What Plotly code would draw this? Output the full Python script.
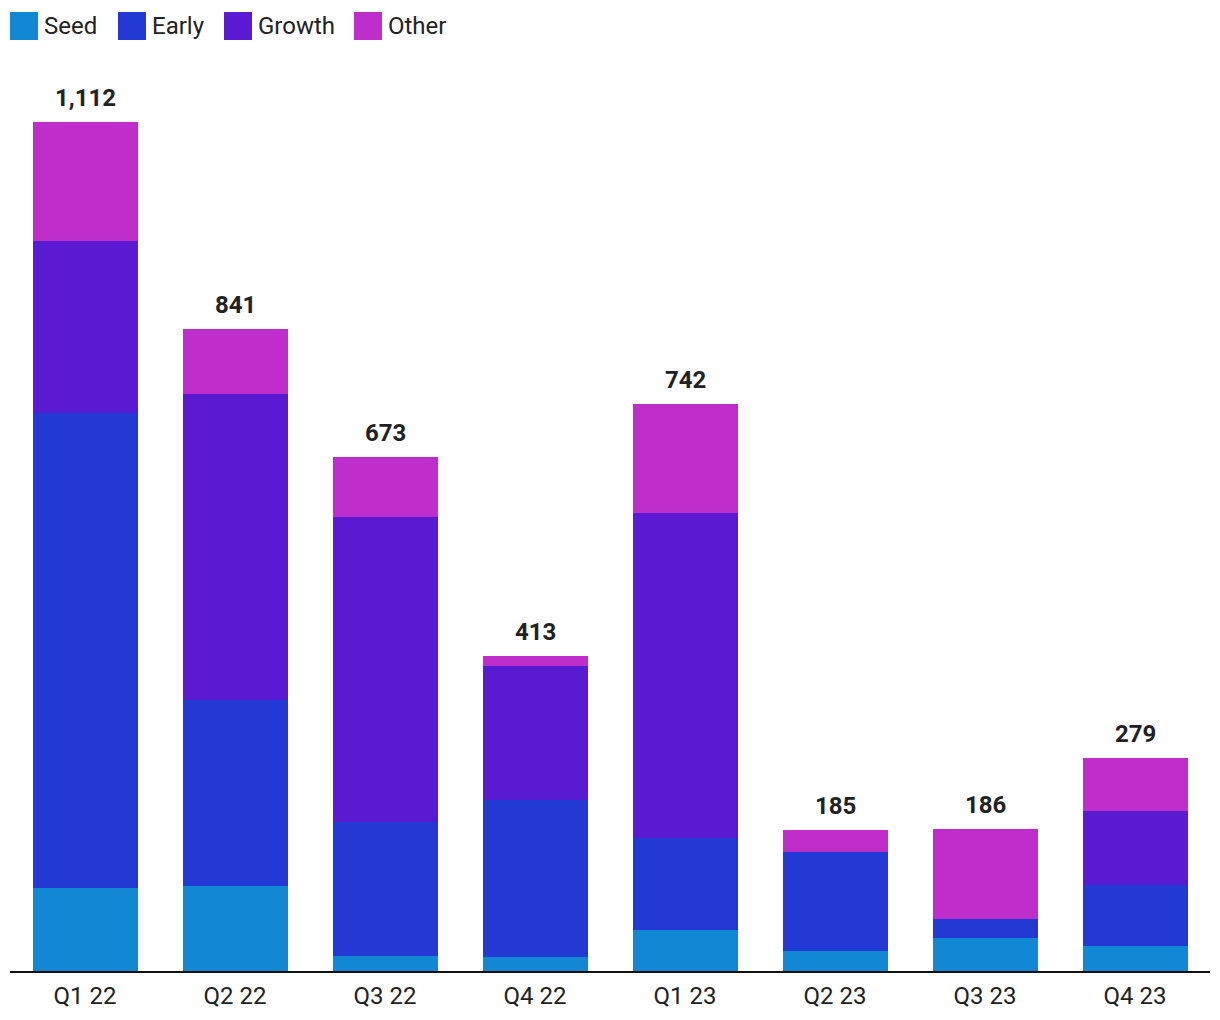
import plotly.graph_objects as go

categories = ["Q1 22", "Q2 22", "Q3 22", "Q4 22", "Q1 23", "Q2 23", "Q3 23", "Q4 23"]
seed = [109, 111, 20, 18, 54, 26, 43, 33]
early = [622, 244, 175, 206, 120, 130, 25, 79]
growth = [225, 401, 400, 175, 426, 0, 0, 97]
other = [156, 85, 78, 14, 142, 29, 118, 70]
series_names = ["Seed", "Early", "Growth", "Other"]
colors = ["#1288d4", "#2339d3", "#5a1ad2", "#bf2ecb"]

series = [seed, early, growth, other]
totals = [sum(v) for v in zip(*series)]

# page has an 8px body margin, so figure is offset by 8px
OFF = 8
W, H = 1220 - OFF, 1020 - OFF
L, R, T, B = 10 - OFF, 10, 80 - OFF, 49
pw, ph = W - L - R, H - T - B

fig = go.Figure()
for name, vals, col in zip(series_names, series, colors):
    fig.add_trace(go.Bar(x=categories, y=vals, name=name, marker=dict(color=col, line=dict(width=0)),
                         showlegend=False, hoverinfo="x+y+name"))

annotations = []
for c, t in zip(categories, totals):
    annotations.append(dict(x=c, y=t, text=f"<b>{t:,}</b>", showarrow=False, yanchor="bottom",
                            yshift=8, font=dict(family="Roboto", size=24, color="#222222")))

# manual legend (page pixel coords converted to paper coords)
def px_x(p):
    return (p - OFF - L) / pw
def px_y(p):
    return 1 - (p - OFF - T) / ph

shapes = []
leg_x = [10, 118, 224, 354]
for name, col, lx in zip(series_names, colors, leg_x):
    shapes.append(dict(type="rect", xref="paper", yref="paper", x0=px_x(lx), x1=px_x(lx + 28),
                       y0=px_y(40), y1=px_y(12), fillcolor=col, line=dict(width=0)))
    annotations.append(dict(xref="paper", yref="paper", x=px_x(lx + 32), y=px_y(26), text=name,
                            showarrow=False, xanchor="left", yanchor="middle",
                            font=dict(family="Roboto", size=24, color="#222222")))

fig.update_layout(
    barmode="stack",
    bargap=0.3,
    width=W, height=H,
    margin=dict(l=L, r=R, t=T, b=B),
    plot_bgcolor="white", paper_bgcolor="white",
    font=dict(family="Roboto", color="#222222"),
    xaxis=dict(showgrid=False, showline=True, linecolor="#111111", linewidth=2,
               tickfont=dict(family="Roboto", size=24, color="#222222"), ticks="", ticklabelstandoff=2),
    yaxis=dict(range=[0, ph / 0.7635], showgrid=False, showticklabels=False, zeroline=False, showline=False),
    shapes=shapes,
    annotations=annotations,
    showlegend=False,
)

fig.write_html("out.html")
